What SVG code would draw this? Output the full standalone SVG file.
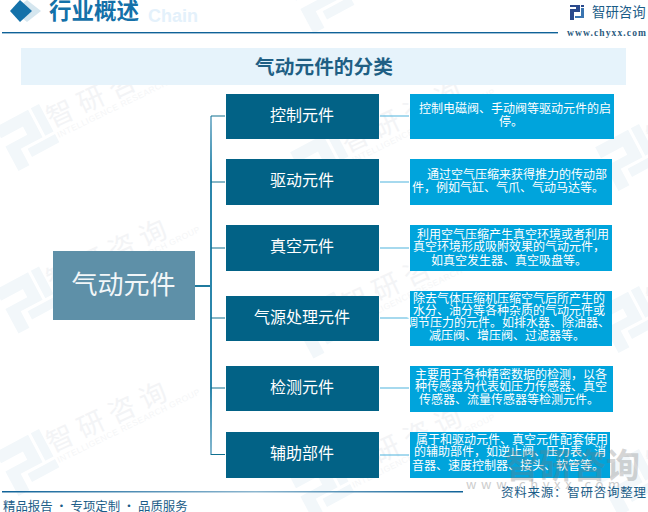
<svg xmlns="http://www.w3.org/2000/svg" width="648" height="512" viewBox="0 0 648 512">
<style>
text{font-family:"Noto Sans CJK SC","Liberation Sans",sans-serif}
.cat rect{fill:#026286}
.cat text{fill:#fff;font-size:16px;text-anchor:middle}
.det rect{fill:#00a4dc}
.det text{fill:#fff;font-size:12px;text-anchor:middle}
.wm{fill:#f3f4f6;font-size:27px;letter-spacing:7px}
.ws{fill:#f5f6f7;font-size:8.5px;letter-spacing:.5px;font-family:"Liberation Sans",sans-serif}
.con path{fill:none}
</style>
<defs>
<g id="wu">
<g transform="rotate(-28) scale(3.1)" fill="#f2f7fa"><path d="M-7-8H5V2H-3V7H-7V-1H1V-4H-7zM-7 5H-3V8H-7zM1 4H3V6H1zM6-8H9V2H6zM6 3H9V6H-1V3z"/></g>
<text class="wm" transform="translate(26,-11) rotate(-25)">智研咨询</text>
<text class="ws" transform="translate(33,-1) rotate(-26)">INTELLIGENCE RESEARCH GROUP</text>
</g>
<linearGradient id="vg" gradientUnits="userSpaceOnUse" x1="0" y1="116" x2="0" y2="455"><stop offset="0" stop-color="#86b8cf"/><stop offset=".18" stop-color="#2b86ab"/><stop offset=".8" stop-color="#2b86ab"/><stop offset="1" stop-color="#86b8cf"/></linearGradient>
<linearGradient id="fl"><stop offset="0" stop-color="#0f6298"/><stop offset=".55" stop-color="#8cb6cf"/><stop offset="1" stop-color="#0f6298"/></linearGradient>
</defs>
<rect width="648" height="512" fill="#fff"/>
<g id="watermarks">
<use href="#wu" x="26" y="139"/><use href="#wu" x="26" y="301.5"/><use href="#wu" x="26" y="464"/>
<use href="#wu" x="321" y="1.5"/><use href="#wu" x="321" y="164"/><use href="#wu" x="321" y="326.5"/><use href="#wu" x="321" y="489"/>
<use href="#wu" x="626" y="159"/><use href="#wu" x="626" y="321"/><use href="#wu" x="626" y="484"/>
<text x="466" y="489" style="font-size:13px;fill:#cdcdcd" textLength="154">www.chyxx.com</text>
</g>
<g id="header">
<text x="148" y="22" style="font-size:18px;font-weight:700;fill:#e4f1fb;font-family:'Liberation Sans',sans-serif">Chain</text>
<polygon points="27,0 41,11 27,22 13,11" fill="#d5e6ef"/>
<polygon points="20,0 32,11 20,22 10,11" fill="#1471a9"/>
<text x="49" y="19" style="font-size:22.5px;font-weight:700;fill:#1471a9">行业概述</text>
<rect x="2" y="32" width="556" height="1.4" fill="#0f6298"/>
</g>
<g id="logo">
<path d="M570 5h10v7h-6v8h-4v-5h0v-6h6v-2h-6zM581 5h3v2h-3z" fill="#2b4a8c"/>
<path d="M581 8h3v10h-9v-2h6z" fill="#3a74b0"/>
<text x="592" y="17" style="font-size:13.4px;fill:#1b5d88">智研咨询</text>
<text x="567" y="36" style="font-size:9.5px;font-family:'Liberation Serif',serif;font-weight:700;fill:#2c5c80" textLength="79">www.chyxx.com</text>
</g>
<g id="title">
<rect x="21" y="48" width="605" height="37" fill="#e6f3fb"/>
<text x="324" y="74" text-anchor="middle" style="font-size:19.7px;font-weight:700;fill:#1f5f84">气动元件的分类</text>
</g>
<g id="connectors" class="con">
<path d="M195 286H211" stroke="#1f7a9e" stroke-width="2"/>
<path d="M211 116V455" stroke="url(#vg)" stroke-width="2"/>
<path d="M211 116H225M211 182H225M211 248H225M211 318H225M211 388H225M211 454.500H225" stroke="#10708f" stroke-width="1.2"/>
<path d="M380 116H409M380 182H409M380 248H409M380 318H409M380 388H409M380 455H409" stroke="#4fb4de" stroke-width="1.2"/>
</g>
<g id="root">
<rect x="53" y="251" width="142" height="69" fill="#5e90a8"/>
<text x="123.500" y="294" text-anchor="middle" style="font-size:26px;fill:#f2f6f8">气动元件</text>
</g>
<g id="n1" class="cat"><rect x="226" y="94" width="153" height="45"/><text x="302" y="121">控制元件</text></g>
<g id="n2" class="cat"><rect x="226" y="159" width="153" height="46"/><text x="302" y="186">驱动元件</text></g>
<g id="n3" class="cat"><rect x="226" y="225" width="153" height="46"/><text x="302" y="252">真空元件</text></g>
<g id="n4" class="cat"><rect x="226" y="296" width="153" height="45"/><text x="302" y="323">气源处理元件</text></g>
<g id="n5" class="cat"><rect x="226" y="366" width="153" height="45"/><text x="302" y="393">检测元件</text></g>
<g id="n6" class="cat"><rect x="226" y="432" width="153" height="46"/><text x="302" y="459">辅助部件</text></g>
<g id="d1" class="det"><rect x="410" y="94" width="204" height="45"/><text x="515" y="113">控制电磁阀、手动阀等驱动元件的启</text><text x="511" y="126">停。</text></g>
<g id="d2" class="det"><rect x="410" y="159" width="202" height="46"/><text x="517" y="179">通过空气压缩来获得推力的传动部</text><text x="508" y="192">件，例如气缸、气爪、气动马达等。</text></g>
<g id="d3" class="det"><rect x="410" y="225" width="202" height="46"/><text x="513" y="239">利用空气压缩产生真空环境或者利用</text><text x="509" y="251">真空环境形成吸附效果的气动元件，</text><text x="509" y="265">如真空发生器、真空吸盘等。</text></g>
<g id="d4" class="det"><rect x="410" y="291" width="202" height="55"/><text x="509" y="303">除去气体压缩机压缩空气后所产生的</text><text x="509" y="315">水分、油分等各种杂质的气动元件或</text><text x="508" y="327">调节压力的元件。如排水器、除油器、</text><text x="507" y="340">减压阀、增压阀、过滤器等。</text></g>
<g id="d5" class="det"><rect x="410" y="366" width="203" height="46"/><text x="511" y="379">主要用于各种精密数据的检测，以各</text><text x="511" y="391">种传感器为代表如压力传感器、真空</text><text x="509" y="404">传感器、流量传感器等检测元件。</text></g>
<g id="d6" class="det"><rect x="410" y="432" width="200" height="46"/><text x="512" y="444">属于和驱动元件、真空元件配套使用</text><text x="510" y="456">的辅助部件，如逆止阀、压力表、消</text><text x="508" y="470">音器、速度控制器、接头、软管等。</text></g>
<g id="footer">
<text x="505" y="478" style="font-size:34px;font-weight:700;fill:#777;opacity:.3" textLength="135">智研咨询</text>
<rect x="2" y="491" width="461" height="1.500" fill="url(#fl)"/>
<text x="3" y="511" style="font-size:12.4px;fill:#1b5d88">精品报告 · 专项定制 · 品质服务</text>
<text x="501" y="497" style="font-size:12.5px;fill:#1b5d88;letter-spacing:.75px">资料来源：智研咨询整理</text>
</g>
</svg>
